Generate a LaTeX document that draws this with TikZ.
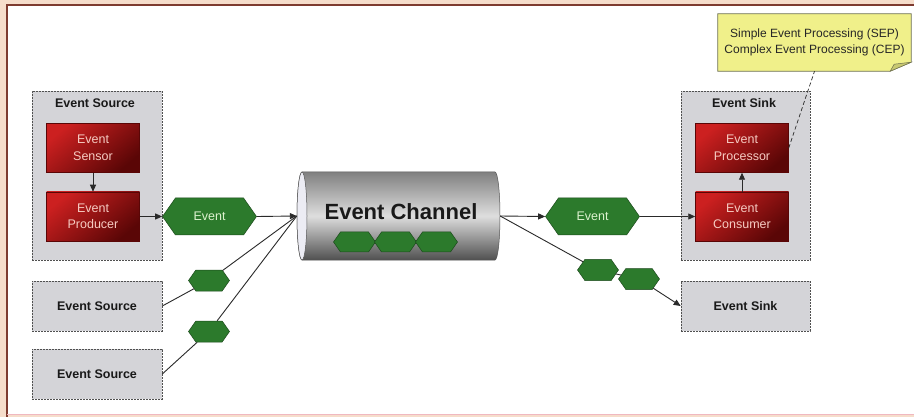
\documentclass[tikz,border=0pt]{standalone}
\usepackage{fontspec}
\setmainfont{Liberation Sans}
\usetikzlibrary{arrows.meta,shapes.symbols,calc}

\definecolor{framebg}{HTML}{F6DDCB}
\definecolor{frameline}{HTML}{7E3B30}
\definecolor{framelow}{HTML}{F0B8C0}
\definecolor{boxgray}{HTML}{D4D4D8}
\definecolor{boxedge}{HTML}{505050}
\definecolor{redhi}{HTML}{CC2020}
\definecolor{redlo}{HTML}{5A0606}
\definecolor{redtext}{HTML}{F6CBC2}
\definecolor{hexfill}{HTML}{2C7A2C}
\definecolor{hexedge}{HTML}{1C4A1C}
\definecolor{hextext}{HTML}{DDF2CF}
\definecolor{noteyellow}{HTML}{F0F08A}
\definecolor{notefold}{HTML}{C8C870}
\definecolor{noteedge}{HTML}{6E7050}
\definecolor{linecol}{HTML}{2A2A2A}
\definecolor{cyltop}{HTML}{808080}
\definecolor{cylmid}{HTML}{DEDEDE}
\definecolor{cylbot}{HTML}{505050}
\definecolor{cylface}{HTML}{ECECF4}
\definecolor{cyledge}{HTML}{555555}

\begin{document}
\begin{tikzpicture}[x=1pt,y=-1pt,
  graybox/.style={draw=boxedge, fill=boxgray, line width=0.6pt,
    dash pattern=on 2pt off 1pt, inner sep=0},
  boxtitle/.style={font=\bfseries\fontsize{12.5}{15}\selectfont, text=black!90, inner sep=0},
  redbox/.style={draw=redlo, line width=0.5pt, shading=axis,
    top color=redhi, bottom color=redlo, shading angle=40,
    minimum width=93pt, minimum height=49pt, inner sep=0, text=redtext,
    align=center, font=\fontsize{12.5}{16.5}\selectfont},
  hexbase/.style={signal, signal to=east and west, signal pointer angle=110,
    draw=hexedge, fill=hexfill, line width=0.5pt, inner sep=0},
  hexbig/.style={hexbase, minimum width=94pt, minimum height=37pt,
    text=hextext, font=\fontsize{12.5}{15}\selectfont},
  hexsmall/.style={hexbase, minimum width=41pt, minimum height=21pt},
  conn/.style={draw=linecol, line width=0.9pt},
  arr/.style={conn, -{Triangle[length=7pt,width=6pt]}},
  notebox/.style={minimum width=193pt, minimum height=57pt, inner sep=0,
    align=center, font=\fontsize{12}{16}\selectfont, text=black!85},
]
\useasboundingbox (0,0) rectangle (914,417);

% frame
\fill[framebg] (0,0) rectangle (914,417);
\fill[white] (7,5) rectangle (914,414);
\draw[frameline, line width=1.2pt] (7,417) -- (7,5) -- (914,5);
\draw[framelow, line width=0.8pt] (7,414) -- (914,414);

% sources
\node (src1) [graybox, minimum width=130pt, minimum height=169pt] at (97,175.5) {};
\node (src1t) [boxtitle] at (95,103) {Event Source};
\node (sensor) [redbox] at (93,148) {Event\\Sensor};
\node (producer) [redbox] at (93,216.5) {Event\\Producer};
\node (src2) [graybox, minimum width=130pt, minimum height=50pt, boxtitle] at (97,306) {Event Source};
\node (src3) [graybox, minimum width=130pt, minimum height=50pt, boxtitle] at (97,374) {Event Source};

% channel
\node (ch) [minimum width=203pt, minimum height=88pt, inner sep=0] at (398.5,216) {};
\path[draw=cyledge, line width=0.5pt, top color=cyltop, bottom color=cylbot, middle color=cylmid]
  (302,172) -- (495,172) arc[start angle=90, end angle=-90, x radius=5pt, y radius=44pt]
  -- (302,260) arc[start angle=270, end angle=90, x radius=5pt, y radius=44pt] -- cycle;
\draw[cyledge, fill=cylface, line width=0.5pt] (302,216) ellipse [x radius=5pt, y radius=44pt];
\node (cht) [font=\bfseries\fontsize{22}{24}\selectfont, text=black!90, inner sep=0] at (401,212) {Event Channel};
\node (q1) [hexbase, minimum width=42pt, minimum height=20pt] at (354.5,242) {};
\node (q2) [hexbase, minimum width=42pt, minimum height=20pt] at (395.5,242) {};
\node (q3) [hexbase, minimum width=42pt, minimum height=20pt] at (436.5,242) {};

% events
\node (evA) [hexbig] at (209.5,216.5) {Event};
\node (sh1) [hexsmall] at (209,280.5) {};
\node (sh2) [hexsmall] at (209,331.5) {};
\node (evB) [hexbig] at (592.5,216.5) {Event};
\node (sh3) [hexsmall] at (598,270) {};
\node (sh4) [hexsmall] at (639,279) {};

% sinks
\node (sink1) [graybox, minimum width=129pt, minimum height=169pt] at (745.5,175.5) {};
\node (sink1t) [boxtitle] at (744,103) {Event Sink};
\node (proc) [redbox] at (742,148) {Event\\Processor};
\node (cons) [redbox] at (742,216.5) {Event\\Consumer};
\node (sink2) [graybox, minimum width=129pt, minimum height=50pt, boxtitle] at (745.5,306) {Event Sink};

% note with folded corner
\node (note) [notebox] at (814.5,42.5) {};
\path[draw=noteedge, fill=noteyellow, line width=0.7pt]
  (note.north west) -- (note.north east) -- ([yshift=9pt]note.south east)
  -- ([xshift=-21pt]note.south east) -- (note.south west) -- cycle;
\path[draw=noteedge, fill=notefold, line width=0.5pt]
  ([yshift=9pt]note.south east) -- ([xshift=-17pt,yshift=7pt]note.south east)
  -- ([xshift=-21pt]note.south east) -- cycle;
\node (notet) [notebox] at (note.center) {Simple Event Processing (SEP)\\Complex Event Processing (CEP)};

% connectors
\draw[arr] (sensor) -- (producer);
\draw[arr] (producer.east) -- (evA.west);
\draw[arr] (evA.east) -- (ch.west);
\draw[conn] (src2.east) -- (sh1);
\draw[conn] (sh1) -- (ch.west);
\draw[conn] (src3.east) -- (sh2);
\draw[conn] (sh2) -- (ch.west);
\draw[arr] (ch.east) -- (evB.west);
\draw[arr] (evB.east) -- (cons.west);
\draw[conn] (ch.east) -- (sh3);
\draw[conn] (sh3) -- (sh4);
\draw[arr] (sh4) -- (sink2.west);
\draw[arr] (cons) -- (proc);
\draw[conn, line width=0.7pt, dash pattern=on 4pt off 2.5pt] (proc.east) -- (note.south);
\end{tikzpicture}
\end{document}
